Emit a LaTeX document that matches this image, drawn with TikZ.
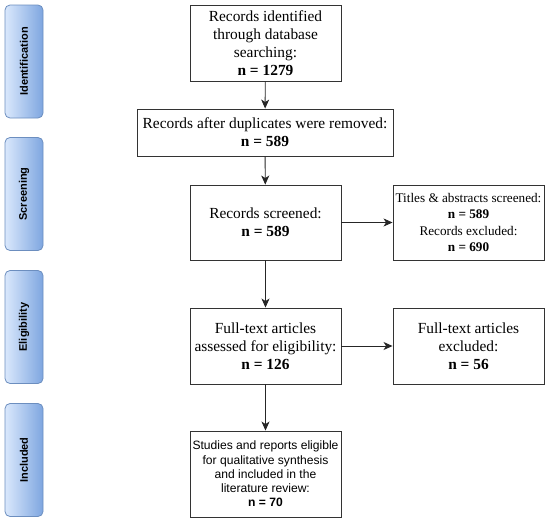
\documentclass[tikz,border=0pt]{standalone}
\usepackage{fontspec}
\setmainfont{Liberation Serif}
\setsansfont{Liberation Sans}
\usetikzlibrary{arrows.meta,positioning}
\definecolor{phaselight}{HTML}{DAE8FC}
\definecolor{phasedark}{HTML}{7EA6E0}
\definecolor{phaseline}{HTML}{6C8EBF}

\begin{document}
\begin{tikzpicture}[
  x=1pt,y=-1pt,
  >={Stealth[length=9pt,width=8pt,inset=2.5pt]},
  box/.style={draw=black!80, line width=0.9pt, fill=white, align=center, inner sep=1pt,
              font=\fontsize{15.4}{18}\selectfont},
  mid/.style={box, minimum width=151pt, minimum height=76pt},
  wide/.style={box, minimum width=256pt, minimum height=47pt},
  small/.style={box, minimum width=151pt, minimum height=76pt, font=\fontsize{13.2}{16.5}\selectfont},
  last/.style={box, minimum width=151pt, minimum height=86pt, inner sep=0.5pt,
               font=\sffamily\fontsize{12.1}{14.3}\selectfont},
  phase/.style={rounded corners=5pt, draw=phaseline, line width=0.8pt,
                left color=phaselight, right color=phasedark,
                minimum width=38pt, minimum height=113pt, inner sep=0pt,
                font=\sffamily\bfseries\fontsize{11}{13}\selectfont},
  link/.style={->, line width=0.9pt, draw=black!85}
]
  \useasboundingbox (0,0) rectangle (550,525);

  % phases on the left
  \node[phase] (ident) at (24,61.5) {\rotatebox{90}{Identification}};
  \node[phase] (screen) at (24,194) {\rotatebox{90}{Screening}};
  \node[phase] (elig) at (24,327) {\rotatebox{90}{Eligibility}};
  \node[phase] (incl) at (24,460) {\rotatebox{90}{Included}};

  % main column
  \node[mid] (found) at (265.5,43) {Records identified\\through database\\searching:\\\textbf{n = 1279}};
  \node[wide] (dedup) at (265,132.5) {Records after duplicates were removed:\\\textbf{n = 589}};
  \node[mid, minimum height=75pt] (screened) at (265.5,222.5) {Records screened:\\\textbf{n = 589}};
  \node[mid] (fulltext) at (265.5,346) {Full-text articles\\assessed for eligibility:\\\textbf{n = 126}};
  \node[last] (kept) at (265.5,474) {Studies and reports eligible\\for qualitative synthesis\\and included in the\\literature review:\\\textbf{n = 70}};

  % exclusions
  \node[small, minimum height=75pt] (dropped) at (468.5,222.5) {Titles \& abstracts screened:\\\textbf{n = 589}\\Records excluded:\\\textbf{n = 690}};
  \node[mid] (ftout) at (468.5,346) {Full-text articles\\excluded:\\\textbf{n = 56}};

  \draw[link] (found) -- (dedup);
  \draw[link] (dedup) -- (screened);
  \draw[link] (screened) -- (fulltext);
  \draw[link] (fulltext) -- (kept);
  \draw[link] (screened) -- (dropped);
  \draw[link] (fulltext) -- (ftout);
\end{tikzpicture}
\end{document}
